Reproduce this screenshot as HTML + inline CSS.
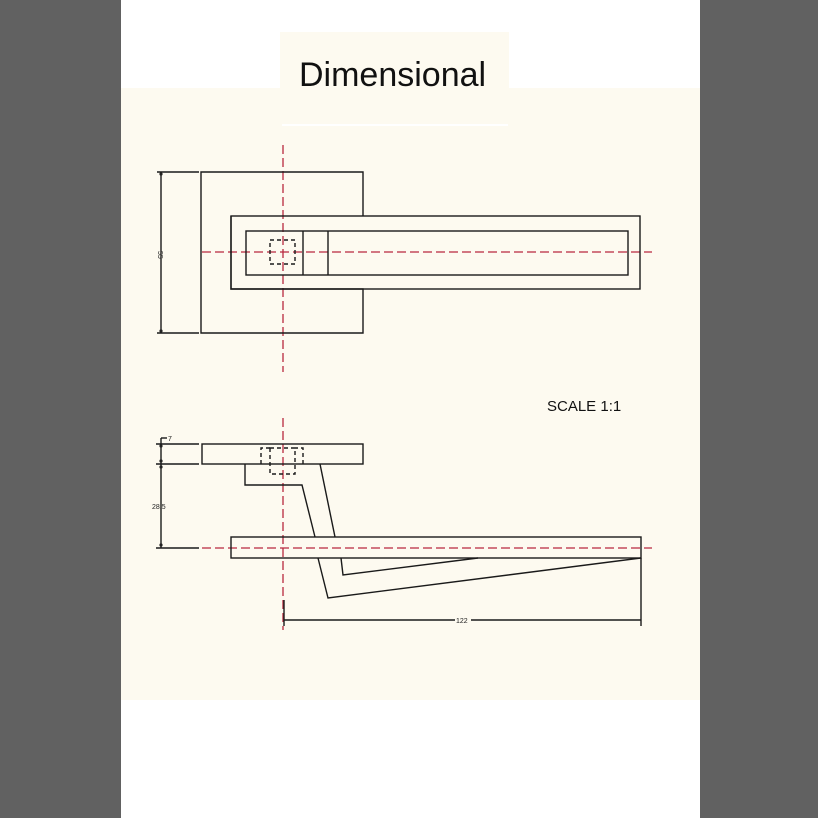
<!DOCTYPE html>
<html><head><style>
html,body{margin:0;padding:0;width:818px;height:818px;overflow:hidden;background:#fff}
</style></head><body>
<svg width="818" height="818" viewBox="0 0 818 818" xmlns="http://www.w3.org/2000/svg" style="display:block">
<rect x="0" y="0" width="818" height="818" fill="#fff"/>
<rect x="0" y="0" width="121" height="818" fill="#616161"/>
<rect x="700" y="0" width="118" height="818" fill="#616161"/>
<rect x="121" y="88" width="579" height="612" fill="#fdfaf0"/>
<rect x="280" y="32" width="229" height="93" fill="#fdfaf0"/>
<line x1="282" y1="125" x2="508" y2="125" stroke="#fff" stroke-width="2"/>
<text x="299" y="86" font-family="Liberation Sans, sans-serif" font-size="34" fill="#111">Dimensional</text>
<text x="547" y="411" font-family="Liberation Sans, sans-serif" font-size="15" fill="#111">SCALE 1:1</text>

<g stroke="#b8283f" stroke-width="1.3" stroke-dasharray="9,4" fill="none">
<line x1="283" y1="145" x2="283" y2="372"/>
<line x1="202" y1="252" x2="652" y2="252"/>
<line x1="283" y1="418" x2="283" y2="630"/>
<line x1="202" y1="548" x2="652" y2="548"/>
</g>

<g stroke="#1a1a1a" stroke-width="1.4" fill="none">
<polyline points="231,216 231,289 363,289 363,333 201,333 201,172 363,172 363,216"/>
<rect x="231" y="216" width="409" height="73" fill="none"/>
<rect x="246" y="231" width="382" height="44"/>
<line x1="303" y1="231" x2="303" y2="275"/>
<line x1="328" y1="231" x2="328" y2="275"/>
<rect x="270" y="240" width="25" height="24" stroke-dasharray="4,3"/>
<line x1="157" y1="172" x2="199" y2="172"/>
<line x1="157" y1="333" x2="199" y2="333"/>
<line x1="161" y1="172" x2="161" y2="333"/>

<rect x="202" y="444" width="161" height="20"/>
<rect x="231" y="537" width="410" height="21"/>
<polyline points="245,464 245,485 302,485 315,537"/>
<line x1="320" y1="464" x2="335" y2="537"/>
<polyline points="318,558 328,598 641,558"/>
<polyline points="341,558 343,575 478,558"/>
<g stroke-dasharray="4,3">
<polyline points="261,464 261,448 270,448"/>
<polyline points="303,464 303,448 295,448"/>
<rect x="270" y="448" width="25" height="26"/>
</g>
<line x1="156" y1="444" x2="199" y2="444"/>
<line x1="156" y1="464" x2="199" y2="464"/>
<line x1="156" y1="548" x2="199" y2="548"/>
<line x1="161" y1="438" x2="161" y2="548"/>
<line x1="161" y1="438" x2="167" y2="438"/>
<line x1="284" y1="600" x2="284" y2="626"/>
<line x1="641" y1="558" x2="641" y2="626"/>
<line x1="284" y1="620" x2="455" y2="620"/>
<line x1="471" y1="620" x2="641" y2="620"/>
</g>
<g fill="#222">
<circle cx="161" cy="174" r="1.6"/><circle cx="161" cy="331" r="1.6"/>
<circle cx="161" cy="446" r="1.6"/><circle cx="161" cy="461" r="1.6"/><circle cx="161" cy="467" r="1.6"/><circle cx="161" cy="545" r="1.6"/>
</g>
<g font-family="Liberation Sans, sans-serif" font-size="7" fill="#222">
<text x="156" y="253" transform="rotate(90 158 253)">55</text>
<text x="168" y="441">7</text>
<text x="152" y="509">28.5</text>
<text x="456" y="623">122</text>
</g>
</svg>
</body></html>
